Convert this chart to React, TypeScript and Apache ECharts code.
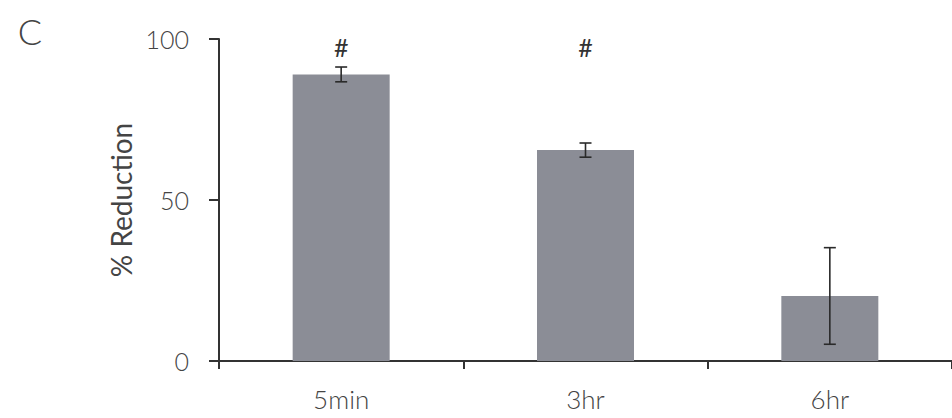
import React, { useEffect, useRef } from "react";
import * as echarts from "echarts";

const categories = ["5min", "3hr", "6hr"];
const means = [89, 65.5, 20.2];
const errors = [2.3, 2.2, 15];
const marks = ["#", "#", ""];
const yTicks = { min: 0, max: 100, interval: 50 };

const FONT = "Lato";

export default function App() {
  const ref = useRef<HTMLDivElement>(null);
  useEffect(() => {
    if (!ref.current) return;
    const chart = echarts.init(ref.current, undefined, { renderer: "svg" });
    chart.setOption({
      animation: false,
      backgroundColor: "#ffffff",
      grid: { left: 219, top: 39, width: 735, height: 322, containLabel: false },
      graphic: [
        {
          type: "text",
          x: 30,
          y: 31,
          style: {
            text: "C",
            font: `300 36px ${FONT}`,
            fill: "#444",
            align: "center",
            verticalAlign: "middle",
          },
        },
      ],
      xAxis: {
        type: "category",
        data: categories,
        axisLine: { lineStyle: { color: "#333", width: 2 } },
        axisTick: { show: true, alignWithLabel: false, length: 8, lineStyle: { color: "#333", width: 2 } },
        axisLabel: { color: "#444", fontFamily: FONT, fontSize: 26, fontWeight: 300, margin: 25 },
      },
      yAxis: {
        type: "value",
        min: yTicks.min,
        max: yTicks.max,
        interval: yTicks.interval,
        name: "% Reduction",
        nameLocation: "middle",
        nameGap: 84,
        nameTextStyle: { color: "#444", fontFamily: FONT, fontSize: 28, fontWeight: 400 },
        axisLine: { show: true, lineStyle: { color: "#333", width: 2 } },
        axisTick: { show: true, inside: false, length: 10, lineStyle: { color: "#333", width: 2 } },
        axisLabel: { color: "#444", fontFamily: FONT, fontSize: 25, fontWeight: 300, margin: 30 },
        splitLine: { show: false },
      },
      series: [
        {
          type: "bar",
          data: means,
          barWidth: 97,
          itemStyle: { color: "#8b8d96" },
        },
        {
          type: "custom",
          data: means.map((m, i) => [i, m - errors[i], m + errors[i]]),
          renderItem: (params: any, api: any) => {
            const i = api.value(0);
            const lo = api.coord([i, api.value(1)]);
            const hi = api.coord([i, api.value(2)]);
            const cap = 6;
            const style = { stroke: "#2a2a2a", lineWidth: 1.6 };
            return {
              type: "group",
              children: [
                { type: "line", shape: { x1: hi[0], y1: hi[1], x2: lo[0], y2: lo[1] }, style },
                { type: "line", shape: { x1: hi[0] - cap, y1: hi[1], x2: hi[0] + cap, y2: hi[1] }, style },
                { type: "line", shape: { x1: lo[0] - cap, y1: lo[1], x2: lo[0] + cap, y2: lo[1] }, style },
              ],
            };
          },
          z: 5,
        },
        {
          type: "custom",
          data: marks.map((m, i) => [i, 97.6]),
          renderItem: (params: any, api: any) => {
            const i = api.value(0);
            const p = api.coord([i, api.value(1)]);
            return {
              type: "text",
              x: p[0],
              y: p[1],
              style: {
                text: marks[params.dataIndex],
                font: `400 25px ${FONT}`,
                fill: "#333",
                align: "center",
                verticalAlign: "middle",
              },
            };
          },
          z: 6,
        },
      ],
    });
    return () => chart.dispose();
  }, []);
  return (
    <div
      ref={ref}
      style={{ position: "absolute", left: 0, top: 0, width: 952, height: 418 }}
    />
  );
}
